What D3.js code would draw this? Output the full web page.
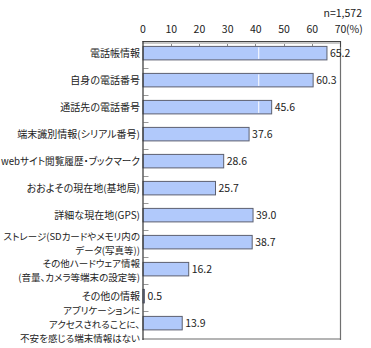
<!DOCTYPE html>
<html>
<head>
<meta charset="utf-8">
<script src="https://cdn.jsdelivr.net/npm/d3@7"></script>
<style>
  html, body { margin: 0; padding: 0; background: #fff; }
  svg { display: block; }
  text { font-family: "Noto Sans CJK JP", "Noto Sans", sans-serif; fill: #222; }
  .cat { font-feature-settings: "palt" 1; }
</style>
</head>
<body>
<svg id="chart" width="371" height="348"></svg>
<script>
const categories = [
  ["電話帳情報"],
  ["自身の電話番号"],
  ["通話先の電話番号"],
  ["端末識別情報(シリアル番号)"],
  ["webサイト閲覧履歴・ブックマーク"],
  ["おおよその現在地(基地局)"],
  ["詳細な現在地(GPS)"],
  ["ストレージ(SDカードやメモリ内の", "データ(写真等))"],
  ["その他ハードウェア情報", "(音量、カメラ等端末の設定等)"],
  ["その他の情報"],
  ["アプリケーションに", "アクセスされることに、", "不安を感じる端末情報はない"]
];
const values = [65.2, 60.3, 45.6, 37.6, 28.6, 25.7, 39.0, 38.7, 16.2, 0.5, 13.9];
const tickValues = [0, 10, 20, 30, 40, 50, 60, 70];
const sampleNote = "n=1,572";
const unitLabel = "(%)";
const highlightValue = 41.2; // white inner line visible in long bars

const svg = d3.select("#chart");
const keys = categories.map((c, i) => i);

const x = d3.scaleLinear().domain([0, 70]).range([142.5, 340]);
const y = d3.scaleBand().domain(keys).range([41, 338]).padding(0);
const bw = y.bandwidth();
const barTop = i => y(i) + bw * 0.2;
const barH = bw * 0.5;

const x0 = x(0), x1 = x(70), yTop = y.range()[0], yBot = y.range()[1];
svg.append("line").attr("x1", x0).attr("x2", x1).attr("y1", yBot + 1).attr("y2", yBot + 1)
  .attr("stroke", "#b4b4b4").attr("stroke-width", 2);
svg.append("line").attr("x1", x1 + 0.5).attr("x2", x1 + 0.5).attr("y1", yTop).attr("y2", yBot + 2)
  .attr("stroke", "#707070").attr("stroke-width", 1.2);

// top axis
const axis = d3.axisTop(x).tickValues(tickValues).tickSize(0).tickPadding(8)
  .tickFormat(d => d);
const gAxis = svg.append("g").attr("transform", `translate(0,${yTop})`).call(axis);
gAxis.select(".domain").remove();
gAxis.selectAll("text").style("font-size", "10.5px").attr("fill", "#222")
  .style("font-family", "'Noto Sans CJK JP', sans-serif");
svg.append("text").attr("x", x(70) + 6).attr("y", yTop - 8)
  .style("font-size", "10.5px").text(unitLabel);

svg.append("g").selectAll("line").data(tickValues.slice(1, -1)).join("line")
  .attr("x1", d => Math.round(x(d)) + 0.5).attr("x2", d => Math.round(x(d)) + 0.5)
  .attr("y1", yTop).attr("y2", yTop + 5)
  .attr("stroke", "#8a8a8a").attr("stroke-width", 1);
svg.append("line").attr("x1", x0).attr("x2", x1).attr("y1", yTop + 2).attr("y2", yTop + 2)
  .attr("stroke", "#c8c8c8").attr("stroke-width", 2);
svg.append("line").attr("x1", x0).attr("x2", x1 + 1).attr("y1", yTop + 0.5).attr("y2", yTop + 0.5)
  .attr("stroke", "#444").attr("stroke-width", 1);
svg.append("line").attr("x1", x1 + 0.5).attr("x2", x1 + 0.5).attr("y1", yTop).attr("y2", yTop + 6)
  .attr("stroke", "#444");

svg.append("g").selectAll("line").data(keys.slice(1)).join("line")
  .attr("x1", x0 + 1).attr("x2", x0 + 6)
  .attr("y1", d => Math.round(y(d)) + 0.5).attr("y2", d => Math.round(y(d)) + 0.5)
  .attr("stroke", "#999");

// bars
svg.append("g").selectAll("rect").data(values).join("rect")
  .attr("x", x(0) + 0.5)
  .attr("y", (d, i) => barTop(i))
  .attr("width", d => Math.max(1, x(d) - x(0)))
  .attr("height", barH)
  .attr("fill", "#b1c9fb")
  .attr("stroke", "#5c6070")
  .attr("stroke-width", 1);

svg.append("g").selectAll("line").data(values.map((v, i) => ({v, i})).filter(d => d.v > highlightValue)).join("line")
  .attr("x1", x(highlightValue)).attr("x2", x(highlightValue))
  .attr("y1", d => barTop(d.i) + 1).attr("y2", d => barTop(d.i) + barH - 1)
  .attr("stroke", "#ffffff").attr("stroke-width", 1);

svg.append("line").attr("x1", x0 + 0.5).attr("x2", x0 + 0.5).attr("y1", yTop).attr("y2", yBot + 2)
  .attr("stroke", "#333").attr("stroke-width", 1.2);

// value labels
svg.append("g").selectAll("text").data(values).join("text")
  .attr("x", d => x(d) + 3.5)
  .attr("y", (d, i) => barTop(i) + barH / 2)
  .attr("dy", "0.36em")
  .style("font-size", "10.5px")
  .text(d => d.toFixed(1));

// category labels (each line as its own text, squeezed to fit the left margin)
const lh = 14;
const maxW = x0 - 3.5;
const gl = svg.append("g");
categories.forEach((lines, i) => {
  const multi = lines.length > 1;
  const cy = barTop(i) + barH / 2 + (multi ? 1 : 0);
  lines.forEach((ln, j) => {
    const t = gl.append("text").attr("class", "cat").attr("text-anchor", "end")
      .style("font-size", multi ? "9.5px" : "10px")
      .attr("x", x0 - 2.5)
      .attr("y", cy + (j - (lines.length - 1) / 2) * lh)
      .attr("dy", "0.36em").text(ln);
    const w = t.node().getComputedTextLength();
    if (w > maxW) t.attr("textLength", maxW).attr("lengthAdjust", "spacingAndGlyphs");
  });
});

svg.append("text").attr("x", 362).attr("y", 13).attr("dy", "0.36em")
  .attr("text-anchor", "end").style("font-size", "10.5px").text(sampleNote);
</script>
</body>
</html>
